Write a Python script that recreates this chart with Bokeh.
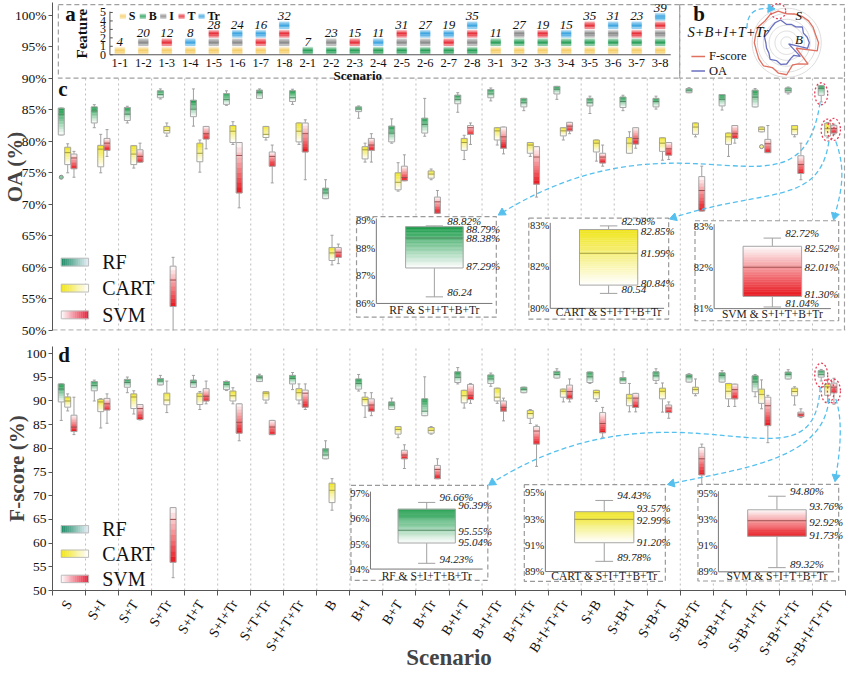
import math
import numpy as np
from bokeh.plotting import figure
from bokeh.models import Range1d, FixedTicker, PrintfTickFormatter, CustomJSTickFormatter
from bokeh.layouts import column
from bokeh.core.properties import value
from bokeh.embed import file_html
from bokeh.resources import INLINE

# ------------------------------------------------------------------ data
SCENARIOS = ["S", "S+I", "S+T", "S+Tr", "S+I+T", "S+I+Tr", "S+T+Tr", "S+I+T+Tr",
             "B", "B+I", "B+T", "B+Tr", "B+I+T", "B+I+Tr", "B+T+Tr", "B+I+T+Tr",
             "S+B", "S+B+I", "S+B+T", "S+B+Tr", "S+B+I+T", "S+B+I+Tr", "S+B+T+Tr", "S+B+I+T+Tr"]
CODES = ["1-1", "1-2", "1-3", "1-4", "1-5", "1-6", "1-7", "1-8",
         "2-1", "2-2", "2-3", "2-4", "2-5", "2-6", "2-7", "2-8",
         "3-1", "3-2", "3-3", "3-4", "3-5", "3-6", "3-7", "3-8"]
FEATURES = ["S", "B", "I", "T", "Tr"]
FEATURE_COUNTS = [4, 7, 16, 8, 4]
FEATURE_TICKS = [0, 1, 2, 3, 4, 5]
MODELS = ["RF", "CART", "SVM"]

# (min, q1, median, q3, max) per scenario
OA_RF = [(81.0, 81.0, 84.3, 85.25, 85.25), (82.15, 82.9, 84.8, 85.45, 85.8), (82.9, 83.3, 84.3, 85.35, 85.55),
         (86.7, 86.9, 87.4, 88.0, 88.3), (82.4, 83.9, 85.1, 86.5, 88.3), (85.7, 85.85, 86.6, 87.55, 88.0),
         (86.8, 86.8, 87.7, 88.1, 88.3), (85.85, 86.3, 86.9, 88.0, 88.25), (70.9, 70.9, 71.8, 72.55, 73.9),
         (83.65, 84.7, 85.1, 85.45, 85.6), (79.7, 79.9, 81.3, 82.4, 83.55), (80.8, 81.3, 82.65, 83.65, 86.8),
         (84.6, 85.95, 86.6, 87.3, 87.7), (86.4, 86.9, 87.5, 88.2, 88.45), (84.85, 85.45, 86.1, 86.8, 86.8),
         (86.65, 87.5, 88.25, 88.7, 88.7), (84.4, 85.6, 86.1, 86.8, 87.15), (84.85, 85.35, 86.3, 87.0, 87.3),
         (85.1, 85.45, 86.3, 86.8, 87.15), (87.7, 87.7, 88.0, 88.35, 88.5), (84.95, 85.6, 86.65, 87.4, 87.4),
         (85.45, 85.45, 87.0, 88.1, 88.35), (87.5, 87.7, 88.0, 88.45, 88.6), (86.24, 87.29, 88.38, 88.79, 88.82)]
OA_CART = [(75.0, 76.3, 78.2, 79.05, 79.6), (75.0, 75.95, 78.75, 79.35, 81.1), (75.75, 76.3, 77.97, 79.3, 79.3),
           (80.8, 81.3, 81.7, 82.35, 82.9), (75.1, 76.75, 78.1, 79.7, 80.2), (79.5, 79.8, 81.6, 82.5, 83.1),
           (80.2, 80.6, 81.1, 82.35, 82.35), (79.5, 79.9, 81.6, 82.9, 82.9), (60.4, 61.1, 62.3, 63.15, 65.1),
           (76.7, 77.2, 78.65, 79.15, 79.7), (72.1, 72.3, 73.5, 75.0, 76.6), (73.9, 74.15, 74.8, 75.3, 75.6),
           (77.1, 78.55, 79.8, 80.45, 80.95), (79.4, 80.2, 81.65, 82.15, 82.15), (77.6, 78.1, 79.4, 79.8, 79.8),
           (80.2, 80.85, 81.65, 82.15, 82.15), (76.85, 78.3, 79.7, 80.2, 80.2), (78.1, 78.1, 79.7, 80.6, 81.5),
           (77.0, 78.4, 79.7, 80.55, 80.55), (80.7, 81.1, 82.25, 82.9, 82.9), (77.6, 79.5, 80.7, 81.3, 81.3),
           (81.5, 81.5, 81.9, 82.25, 82.25), (80.7, 81.05, 81.9, 82.5, 82.5), (80.54, 80.84, 81.99, 82.85, 82.98)]
OA_SVM = [(74.3, 75.65, 77.35, 77.97, 78.4), (77.6, 78.55, 79.7, 80.45, 81.85), (76.7, 76.7, 77.6, 78.65, 79.7),
          (49.0, 53.8, 58.0, 60.2, 61.6), (78.8, 80.35, 81.2, 82.35, 82.35), (69.45, 71.8, 77.75, 79.8, 79.8),
          (73.4, 76.05, 77.6, 78.3, 79.4), (73.9, 78.3, 81.2, 82.9, 83.4), (60.6, 61.6, 62.4, 63.15, 63.7),
          (76.7, 78.55, 79.4, 80.45, 81.2), (73.75, 73.75, 74.25, 76.05, 77.85), (68.6, 68.6, 70.4, 71.15, 72.2),
          (79.5, 81.1, 82.15, 82.5, 82.9), (78.0, 78.9, 80.7, 82.25, 82.25), (71.15, 73.2, 77.5, 79.15, 79.15),
          (81.2, 81.65, 82.4, 83.0, 83.0), (76.05, 76.55, 77.5, 78.1, 79.4), (78.9, 79.55, 80.45, 82.15, 82.15),
          (77.1, 77.8, 78.8, 79.8, 79.8), (68.95, 68.95, 72.2, 74.4, 76.05), (79.7, 80.45, 81.2, 82.5, 82.5),
          (78.2, 78.2, 79.6, 80.3, 82.5), (73.9, 74.9, 76.3, 77.7, 79.7), (81.04, 81.30, 82.01, 82.52, 82.72)]
OA_OUTLIERS = [(0, 0, 74.3), (1, 21, 79.15)]  # (model index, scenario index, value)

F_RF = [(85.9, 89.8, 92.5, 93.6, 93.6), (90.0, 92.15, 93.25, 94.1, 94.4), (91.75, 92.9, 93.9, 94.55, 95.05),
        (93.4, 93.4, 94.2, 94.75, 95.4), (92.9, 92.9, 93.9, 94.4, 95.4), (92.2, 92.4, 93.5, 94.1, 94.2),
        (94.1, 94.1, 94.9, 95.3, 95.65), (92.4, 93.6, 94.75, 95.4, 96.0), (77.8, 77.8, 78.6, 79.9, 81.6),
        (92.1, 92.5, 93.7, 94.65, 95.6), (88.2, 88.2, 89.15, 89.8, 90.6), (86.9, 86.9, 87.85, 90.45, 95.1),
        (93.6, 93.9, 95.0, 96.15, 97.05), (93.1, 93.7, 94.65, 95.5, 95.9), (91.75, 91.75, 92.4, 92.9, 92.9),
        (94.85, 94.85, 95.6, 96.25, 96.8), (93.7, 93.9, 95.1, 96.1, 96.1), (93.7, 93.7, 94.45, 94.95, 96.15),
        (93.7, 94.35, 95.3, 96.15, 96.8), (94.0, 94.0, 95.1, 95.6, 95.75), (94.0, 94.0, 95.4, 95.95, 96.4),
        (90.9, 91.95, 94.0, 95.3, 95.6), (94.65, 94.65, 95.6, 96.1, 96.6), (94.23, 95.04, 95.55, 96.39, 96.66)]
F_CART = [(87.9, 88.7, 90.0, 90.85, 91.5), (84.3, 87.75, 89.8, 90.35, 90.5), (87.25, 88.4, 90.85, 91.5, 92.15),
          (87.55, 89.2, 90.2, 91.65, 94.2), (88.2, 89.25, 91.0, 91.65, 92.0), (89.4, 90.0, 91.1, 92.1, 92.8),
          (89.55, 90.2, 91.65, 91.95, 91.95), (89.4, 90.2, 91.75, 92.6, 93.6), (66.95, 68.55, 71.15, 72.65, 73.6),
          (86.55, 89.0, 90.3, 90.8, 91.75), (82.25, 83.0, 84.0, 84.6, 84.6), (83.0, 83.2, 83.8, 84.4, 84.6),
          (88.5, 89.6, 91.1, 92.25, 92.25), (89.5, 90.0, 90.8, 92.7, 92.7), (85.25, 86.35, 87.35, 88.0, 88.2),
          (89.8, 90.8, 92.05, 92.5, 92.5), (89.9, 90.45, 91.75, 92.25, 92.25), (87.7, 89.0, 90.6, 91.4, 93.7),
          (87.65, 90.45, 92.05, 92.7, 93.8), (91.1, 91.55, 92.4, 92.9, 94.65), (88.85, 90.45, 92.05, 93.7, 93.7),
          (88.35, 89.5, 91.4, 92.5, 94.45), (89.15, 91.1, 92.0, 92.7, 93.0), (89.78, 91.20, 92.99, 93.57, 94.43)]
F_SVM = [(82.9, 83.55, 84.5, 87.0, 90.8), (85.3, 88.1, 89.4, 90.55, 91.5), (86.0, 86.1, 88.4, 89.25, 89.25),
         (52.7, 55.95, 65.0, 67.5, 67.5), (89.4, 90.0, 91.0, 92.6, 94.2), (81.6, 83.2, 85.5, 89.4, 89.4),
         (82.9, 82.9, 84.5, 85.9, 85.9), (88.2, 88.7, 91.65, 92.3, 93.6), None,
         (86.9, 87.85, 89.15, 90.45, 91.75), (75.75, 77.8, 78.6, 79.6, 80.75), (73.6, 73.6, 75.55, 76.4, 77.8),
         (89.5, 90.3, 91.1, 93.5, 93.7), (85.8, 87.85, 88.65, 90.0, 90.6), (76.2, 80.9, 83.65, 84.6, 84.9),
         (89.8, 90.45, 92.0, 93.35, 94.65), (82.35, 83.3, 85.25, 87.55, 88.65), (87.7, 88.65, 90.6, 91.6, 91.6),
         (86.35, 87.55, 88.5, 89.15, 89.8), (72.35, 74.4, 77.8, 80.2, 80.9), (88.85, 90.45, 92.4, 93.55, 93.55),
         (81.2, 84.8, 89.0, 90.8, 91.2), (86.5, 86.7, 87.2, 87.65, 88.35), (89.32, 91.73, 92.92, 93.76, 94.80)]

MAIN_TICKS = [50, 55, 60, 65, 70, 75, 80, 85, 90, 95, 100]
OA_INSET_TICKS = [[89, 88, 87, 86], [83, 81.5, 80], [83, 82, 81]]
OA_INSET_TICK_LABELS = [["89%", "88%", "87%", "86%"], ["83%", "82%", "80%"], ["83%", "82%", "81%"]]
F_INSET_TICKS = [[97, 96, 95, 94], [95, 93, 91, 89], [95, 93, 91, 89]]
F_INSET_TICK_LABELS = [["97%", "96%", "95%", "94%"], ["95%", "93%", "91%", "89%"], ["95%", "93%", "91%", "89%"]]
NO_PERCENT = {("OA", 0, 0), ("OA", 1, 0)}
INSET_SUFFIX = " & S+I+T+B+Tr"

RADAR_RINGS = [0.2, 0.4, 0.6, 0.8, 1.0, 1.18]
RADAR_MIN, RADAR_MAX, RADAR_RMAX = 70.0, 97.0, 1.18

# ------------------------------------------------------------------ styling / layout
FONT = value("Liberation Serif")
FEATURE_COLORS = ["#f6cf6a", "#2aa05a", "#8c8c8c", "#e8323c", "#3ea6e2"]
STRIPE_ALPHA = [0.45, 0.8, 1.0, 0.85, 0.55]
BOX_COLORS = [("#169a46", "#ffffff", "#4f8a62"),   # RF: top, bottom, median
              ("#f0e51c", "#ffffff", "#a39c3c"),   # CART
              ("#ffffff", "#e8141c", "#a05050")]   # SVM
LEGEND_COLORS = [("#1c8c66", "#e6eef8"), ("#f0e51c", "#ffffff"), ("#ffffff", "#e8203a")]
BOX_OFFSETS = [-0.235, -0.04, 0.15]
BOX_W = 0.18
ARROW_C = "#55c0ee"
HILITE_C = "#e8405a"

REF_X0, REF_X1 = 49.0, 862.0
def mx(rx): return (rx - REF_X0) / (REF_X1 - REF_X0) * 24.0
def my_c(ry): return 50.0 + (336.7 - ry) / 6.46
def my_d(ry): return 50.0 + (613.3 - ry) / 5.15

def sub_range(v0, m0, v1, m1, ms, me):
    k = (v1 - v0) / (m1 - m0)
    return Range1d(start=v0 + (ms - m0) * k, end=v0 + (me - m0) * k)

def hex2rgb(h):
    h = h.lstrip("#")
    return tuple(int(h[i:i + 2], 16) for i in (0, 2, 4))

def mix(c1, c2, t):
    a, b = hex2rgb(c1), hex2rgb(c2)
    return "#%02x%02x%02x" % tuple(int(round(a[i] + (b[i] - a[i]) * t)) for i in range(3))

def txt(p, x, y, text, size="14px", style="normal", align="left", base="middle", color="#111", **kw):
    p.text(x=x, y=y, text=text, text_font=FONT, text_font_size=size, text_font_style=style,
           text_align=align, text_baseline=base, text_color=color, **kw)

def draw_boxes(p, stats, xcs, width, colors, yname="default", nsl=10, cap_frac=0.5, lw=1.0):
    top_c, bot_c, med_c = colors
    L, R, T, B, C = [], [], [], [], []
    wx, wy0, wy1, cx0, cx1, cy = [], [], [], [], [], []
    bl, br, bt, bb, mdy = [], [], [], [], []
    for x, s in zip(xcs, stats):
        if s is None:
            continue
        lo, q1, md, q3, hi = s
        for k in range(nsl):
            L.append(x - width / 2); R.append(x + width / 2)
            T.append(q3 - (q3 - q1) * k / nsl); B.append(q3 - (q3 - q1) * (k + 1) / nsl)
            C.append(mix(top_c, bot_c, (k + 0.5) / nsl))
        wx += [x, x]; wy0 += [q3, q1]; wy1 += [hi, lo]
        cx0 += [x - width * cap_frac / 2] * 2; cx1 += [x + width * cap_frac / 2] * 2; cy += [hi, lo]
        bl.append(x - width / 2); br.append(x + width / 2); bt.append(q3); bb.append(q1); mdy.append(md)
    p.segment(x0=wx, y0=wy0, x1=wx, y1=wy1, line_color="#a0a0a0", line_width=lw, y_range_name=yname)
    p.segment(x0=cx0, y0=cy, x1=cx1, y1=cy, line_color="#a0a0a0", line_width=lw, y_range_name=yname)
    p.quad(left=L, right=R, top=T, bottom=B, fill_color=C, line_color=C, line_width=0.4, y_range_name=yname)
    p.quad(left=bl, right=br, top=bt, bottom=bb, fill_color=None, line_color="#a6a6a6", line_width=lw,
           y_range_name=yname)
    p.segment(x0=bl, y0=mdy, x1=br, y1=mdy, line_color=med_c, line_width=lw, y_range_name=yname)

def draw_panel_boxes(p, series):
    for m, stats in enumerate(series):
        xcs = [i + 0.5 + BOX_OFFSETS[m] for i in range(len(stats))]
        draw_boxes(p, stats, xcs, BOX_W, BOX_COLORS[m])

def draw_legend(p, ys, half_h):
    x0, x1 = mx(58), mx(86)
    n = 14
    for m, name in enumerate(MODELS):
        c0, c1 = LEGEND_COLORS[m]
        xs = [x0 + (x1 - x0) * k / n for k in range(n + 1)]
        p.quad(left=xs[:-1], right=xs[1:], top=[ys[m] + half_h] * n, bottom=[ys[m] - half_h] * n,
               fill_color=[mix(c0, c1, (k + 0.5) / n) for k in range(n)],
               line_color=[mix(c0, c1, (k + 0.5) / n) for k in range(n)], line_width=0.4)
        p.quad(left=[x0], right=[x1], top=[ys[m] + half_h], bottom=[ys[m] - half_h], fill_color=None,
               line_color="#bdbdbd", line_width=1)
        txt(p, [mx(100)], [ys[m]], [name], size="20px")

def draw_inset(p, key, lay, myf, y_end, stats, ticks, tick_labels, labels, title, colors, q_off):
    p.quad(left=[mx(lay["l"])], right=[mx(lay["r"])], top=[myf(lay["t"])], bottom=[myf(lay["b"])],
           fill_color="white", line_color="#9a9a9a", line_dash="5 3", line_width=1.2)
    rng = sub_range(lay["v_top"], myf(lay["y_top"]), lay["v_bot"], myf(lay["y_bot"]), 50, y_end)
    p.extra_y_ranges = {**p.extra_y_ranges, key: rng}
    ax = mx(lay["ax"])
    vb, vt = min(ticks), max(ticks)
    p.segment(x0=[ax], y0=[vb], x1=[ax], y1=[vt + 0.03 * (vt - vb)], line_color="#777", y_range_name=key)
    p.segment(x0=[ax], y0=[vb], x1=[mx(lay["end"])], y1=[vb], line_color="#777", y_range_name=key)
    txt(p, [ax] * len(ticks), ticks, tick_labels, size="10.5px", align="right", x_offset=-1,
        color="#222", y_range_name=key)
    bl, br = mx(lay["bl"]), mx(lay["br"])
    xc, w = (bl + br) / 2, br - bl
    draw_boxes(p, [stats], [xc], w, colors, yname=key, nsl=30, cap_frac=0.3)
    lo, q1, md, q3, hi = stats
    txt(p, [xc + 0.17 * w] * 2, [lo, hi], [labels[0], labels[4]], size="11px", style="italic",
        x_offset=3, y_offset=[-4, -5], color="#222", y_range_name=key)
    txt(p, [br] * 3, [q1, md, q3], [labels[1], labels[2], labels[3]], size="11px", style="italic",
        x_offset=3, y_offset=q_off, color="#222", y_range_name=key)
    txt(p, [xc], [myf(lay["title_y"])], [title], size="11.5px", align="center", color="#222")

def bezier_arrows(p, arrows, myf):
    for (sx, sy, c1x, c1y, c2x, c2y, ex, ey) in arrows:
        p.bezier(x0=[mx(sx)], y0=[myf(sy)], x1=[mx(ex)], y1=[myf(ey)], cx0=[mx(c1x)], cy0=[myf(c1y)],
                 cx1=[mx(c2x)], cy1=[myf(c2y)], line_color=ARROW_C, line_dash="5 3", line_width=1.3)
        ang = math.atan2(-(ex - c2x), -(ey - c2y))
        p.scatter(x=[mx(ex)], y=[myf(ey)], marker="triangle", size=8, angle=ang,
                  fill_color=ARROW_C, line_color=ARROW_C)

def highlight(p, series, w=14, h=24):
    xs, ys = [], []
    last = len(series[0]) - 1
    for m, stats in enumerate(series):
        lo, q1, md, q3, hi = stats[last]
        xs.append(last + 0.5 + BOX_OFFSETS[m]); ys.append((lo + hi) / 2)
    p.ellipse(x=xs, y=ys, width=w, height=h, width_units="screen", height_units="screen",
              fill_color=None, line_color=HILITE_C, line_dash="2 2", line_width=1.3)

def style_y(ax, label, fmt, standoff):
    ax.ticker = FixedTicker(ticks=MAIN_TICKS)
    ax.formatter = fmt
    ax.axis_label = label
    ax.axis_label_text_font = "Liberation Serif"
    ax.axis_label_text_font_style = "bold"
    ax.axis_label_text_font_size = "21px"
    ax.axis_label_standoff = standoff
    ax.major_label_text_font = "Liberation Serif"
    ax.major_label_text_font_size = "13.5px"
    ax.major_label_text_color = "#111"
    ax.major_label_standoff = 2
    ax.axis_line_color = "#555"
    ax.major_tick_line_color = "#555"
    ax.minor_tick_line_color = None
    ax.major_tick_out = 4
    ax.major_tick_in = 0

# ================================================================== panel c (OA) + a + b
C_TOP = 102.0
pc = figure(width=849, height=340, x_range=Range1d(0, 24), y_range=Range1d(50, C_TOP), x_axis_location=None,
            output_backend="svg", toolbar_location=None, min_border_left=47, min_border_right=4,
            min_border_top=2, min_border_bottom=10)
pc.grid.visible = False
pc.outline_line_color = None
style_y(pc.yaxis[0], "OA (%)", PrintfTickFormatter(format="%d%%"), -15)

# separators and frame lines
pc.segment(x0=list(range(1, 24)), y0=[50] * 23, x1=list(range(1, 24)), y1=[90] * 23,
           line_color="#bdbdbd", line_dash="2 3", line_width=1)
pc.segment(x0=[0, 23.97], y0=[50.05, 50], x1=[24, 23.97], y1=[50.05, 90], line_color="#a0a0a0",
           line_dash="5 3", line_width=1.2)
# panel a / b frames
pc.quad(left=[mx(55), mx(692)], right=[mx(692), 23.97], top=[my_c(3), my_c(3)], bottom=[90, 90],
        fill_color=None, line_color="#a0a0a0", line_dash="5 3", line_width=1.2)

OA = [OA_RF, OA_CART, OA_SVM]
draw_panel_boxes(pc, OA)
pc.scatter(x=[o[1] + 0.5 + BOX_OFFSETS[o[0]] for o in OA_OUTLIERS], y=[o[2] for o in OA_OUTLIERS],
           size=4, fill_color=[BOX_COLORS[o[0]][0] for o in OA_OUTLIERS], fill_alpha=0.5,
           line_color="#8a8a8a")
txt(pc, [mx(55)], [my_c(89)], ["c"], size="21px", style="bold")
draw_legend(pc, [my_c(266.7), my_c(293.3), my_c(320.7)], 0.62)

OA_LAYOUT = [
    dict(l=360.7, r=504, t=220, b=323, ax=381, bl=411, br=470, end=500, v_top=89, y_top=224.5, v_bot=86,
         y_bot=309, title_y=316),
    dict(l=537.3, r=680.7, t=221.7, b=325, ax=559.3, bl=589.3, br=649, end=676, v_top=83, y_top=229, v_bot=80,
         y_bot=314, title_y=318),
    dict(l=707.7, r=855, t=224.3, b=326.7, ax=727.3, bl=757, br=817, end=847, v_top=83, y_top=230.3, v_bot=81,
         y_bot=314.3, title_y=320)]
for m in range(3):
    st = OA[m][-1]
    labels = [("%.2f" % v) + ("" if ("OA", m, k) in NO_PERCENT else "%") for k, v in enumerate(st)]
    draw_inset(pc, "oa%d" % m, OA_LAYOUT[m], my_c, C_TOP, st, OA_INSET_TICKS[m], OA_INSET_TICK_LABELS[m],
               labels, MODELS[m] + INSET_SUFFIX, BOX_COLORS[m], [-2, 0, 2])
highlight(pc, OA, 13, 22)
bezier_arrows(pc, [(836, 103, 815, 240, 700, 100, 510, 216),
                   (845, 143, 835, 210, 780, 190, 686, 221),
                   (852, 143, 864, 175, 856, 200, 851, 219)], my_c)

# ---- panel a : feature composition
pc.extra_x_ranges = {"ax": sub_range(0, mx(118), 23, mx(672), 0, 24)}
pc.extra_y_ranges = {**pc.extra_y_ranges, "ay": sub_range(0, my_c(54.3), 5, my_c(11), 50, C_TOP)}
ka = dict(x_range_name="ax", y_range_name="ay")
L, R, T, B, C = [], [], [], [], []
tot_x, tot_y, tot_t = [], [], []
for i, sc in enumerate(SCENARIOS):
    parts = sc.split("+")
    feats = [f for f in FEATURES if f in parts]
    for lvl, f in enumerate(feats):
        fi = FEATURES.index(f)
        for j, a in enumerate(STRIPE_ALPHA):
            L.append(i - 0.21); R.append(i + 0.21)
            T.append(lvl + 0.9 - 0.85 * j / 5); B.append(lvl + 0.9 - 0.85 * (j + 1) / 5)
            C.append(mix("#ffffff", FEATURE_COLORS[fi], a))
    tot_x.append(i); tot_y.append(len(feats) + 0.08)
    tot_t.append(str(sum(FEATURE_COUNTS[FEATURES.index(f)] for f in feats)))
pc.quad(left=L, right=R, top=T, bottom=B, fill_color=C, line_color=C, line_width=0.3, **ka)
txt(pc, tot_x, tot_y, tot_t, size="13px", style="italic", align="center", base="bottom", **ka)
pc.segment(x0=[-0.42, -0.42], y0=[0, 0], x1=[-0.42, 23.45], y1=[5.1, 0], line_color="#555", **ka)
pc.segment(x0=[-0.42] * 6, y0=FEATURE_TICKS, x1=[-0.3] * 6, y1=FEATURE_TICKS, line_color="#555", **ka)
txt(pc, [-0.42] * 6, FEATURE_TICKS, [str(t) for t in FEATURE_TICKS], size="12px", align="right",
    x_offset=-4, **ka)
txt(pc, list(range(24)), [-1.0] * 24, CODES, size="12.5px", align="center", **ka)
txt(pc, [10.13], [-2.5], ["Scenario"], size="13px", style="bold", align="center", **ka)
txt(pc, [-1.62], [2.5], ["Feature"], size="15px", style="bold", align="center", angle=math.pi / 2, **ka)
txt(pc, [-2.32], [4.85], ["a"], size="21px", style="bold", **ka)
LEG_A_X = [0.0, 0.85, 1.72, 2.5, 3.35]
for k, f in enumerate(FEATURES):
    x0 = LEG_A_X[k]
    for j, a in enumerate(STRIPE_ALPHA):
        pc.quad(left=[x0], right=[x0 + 0.26], top=[4.85 - 0.6 * j / 5], bottom=[4.85 - 0.6 * (j + 1) / 5],
                fill_color=mix("#ffffff", FEATURE_COLORS[k], a), line_color=None, **ka)
    txt(pc, [x0 + 0.38], [4.55], [f], size="12px", style="bold", **ka)

# ---- panel b : radar
pc.extra_x_ranges = {**pc.extra_x_ranges, "rx": sub_range(0, mx(801.7), 1, mx(831.7), 0, 24)}
pc.extra_y_ranges = {**pc.extra_y_ranges, "ry": sub_range(0, my_c(42), 1, my_c(12), 50, C_TOP)}
kr = dict(x_range_name="rx", y_range_name="ry")
th = np.linspace(0, 2 * np.pi, 73)
pc.multi_line(xs=[list(r * np.cos(th)) for r in RADAR_RINGS], ys=[list(r * np.sin(th)) for r in RADAR_RINGS],
              line_color="#dcdcdc", line_width=1, **kr)
ang = [math.radians(90 - 15 * i) for i in range(24)]
def radar_xy(vals):
    rr = [(v - RADAR_MIN) / (RADAR_MAX - RADAR_MIN) * RADAR_RMAX for v in vals]
    xs = [r * math.cos(a) for r, a in zip(rr, ang)]
    ys = [r * math.sin(a) for r, a in zip(rr, ang)]
    return xs + xs[:1], ys + ys[:1]
fx, fy = radar_xy([s[2] for s in F_RF])
ox, oy = radar_xy([s[2] for s in OA_RF])
pc.line(fx, fy, line_color="#e07060", line_width=1.3, **kr)
pc.line(ox, oy, line_color="#6a70c0", line_width=1.3, **kr)
pc.ellipse(x=[fx[23]], y=[fy[23]], width=15, height=15, width_units="screen", height_units="screen",
           fill_color=None, line_color=HILITE_C, line_dash="2 2", line_width=1.3, **kr)
txt(pc, [0.3, 0.28], [0.92, 0.12], ["S", "B"], size="13px", style="italic", **kr)
txt(pc, [mx(706)], [my_c(13)], ["b"], size="21px", style="bold")
txt(pc, [mx(700)], [my_c(31)], ["S+B+I+T+Tr"], size="14.5px", style="italic")
pc.segment(x0=[mx(704), mx(704)], y0=[my_c(56), my_c(71)], x1=[mx(718), mx(718)], y1=[my_c(56), my_c(71)],
           line_color=["#e07060", "#6a70c0"], line_width=1.5)
txt(pc, [mx(722), mx(722)], [my_c(56), my_c(71)], ["F-score", "OA"], size="12.5px")
bezier_arrows(pc, [(761, 27, 761, 10, 771, 6, 785, 7)], my_c)

# ================================================================== panel d (F-score)
D_TOP = 101.5
pdd = figure(width=849, height=333, x_range=Range1d(0, 24), y_range=Range1d(50, D_TOP),
             output_backend="svg", toolbar_location=None, min_border_left=47, min_border_right=4,
             min_border_top=6, min_border_bottom=72)
pdd.grid.visible = False
pdd.outline_line_color = None
style_y(pdd.yaxis[0], "F-score (%)", PrintfTickFormatter(format="%d"), -6)
xa = pdd.xaxis[0]
xa.ticker = FixedTicker(ticks=[i + 0.5 for i in range(24)], minor_ticks=list(range(25)))
xa.formatter = CustomJSTickFormatter(args=dict(labels=SCENARIOS), code="return labels[Math.floor(tick)];")
xa.major_tick_line_color = None
xa.minor_tick_line_color = "#555"
xa.minor_tick_out = 5
xa.minor_tick_in = 0
xa.axis_line_color = "#555"
xa.major_label_orientation = 1.0
xa.major_label_text_font = "Liberation Serif"
xa.major_label_text_font_size = "14px"
xa.major_label_text_color = "#111"
xa.axis_label = "Scenario"
xa.axis_label_text_font = "Liberation Serif"
xa.axis_label_text_font_style = "bold"
xa.axis_label_text_font_size = "23px"
xa.axis_label_standoff = -30

pdd.segment(x0=list(range(1, 24)), y0=[50] * 23, x1=list(range(1, 24)), y1=[D_TOP] * 23,
            line_color="#bdbdbd", line_dash="2 3", line_width=1)
FS = [F_RF, F_CART, F_SVM]
draw_panel_boxes(pdd, FS)
txt(pdd, [mx(55)], [my_d(357)], ["d"], size="21px", style="bold")
draw_legend(pdd, [my_d(546.7), my_d(573.3), my_d(600.7)], 0.78)
F_LAYOUT = [
    dict(l=355, r=495.3, t=499, b=602.3, ax=375, bl=403.3, br=462, end=490, v_top=97, y_top=508.3, v_bot=94,
         y_bot=590, title_y=597.5),
    dict(l=532.7, r=677.3, t=498.3, b=603.3, ax=554.3, bl=584.3, br=645, end=672, v_top=95, y_top=507.3,
         v_bot=89, y_bot=592.7, title_y=597.7),
    dict(l=710.7, r=855, t=498, b=603, ax=731.7, bl=761.7, br=821.7, end=850, v_top=95, y_top=508, v_bot=89,
         y_bot=593, title_y=597.7)]
for m in range(3):
    st = FS[m][-1]
    labels = [("%.2f" % v) + ("" if ("F", m, k) in NO_PERCENT else "%") for k, v in enumerate(st)]
    draw_inset(pdd, "f%d" % m, F_LAYOUT[m], my_d, D_TOP, st, F_INSET_TICKS[m], F_INSET_TICK_LABELS[m],
               labels, MODELS[m] + INSET_SUFFIX, BOX_COLORS[m], [-1, 1, -4])
highlight(pdd, FS, 13, 24)
bezier_arrows(pdd, [(836, 392, 830, 520, 690, 370, 500, 496),
                    (845, 405, 840, 470, 760, 480, 684, 497),
                    (852, 405, 860, 430, 856, 465, 852, 490)], my_d)

layout = column(pc, pdd)
open("out.html", "w").write(file_html(layout, INLINE))
